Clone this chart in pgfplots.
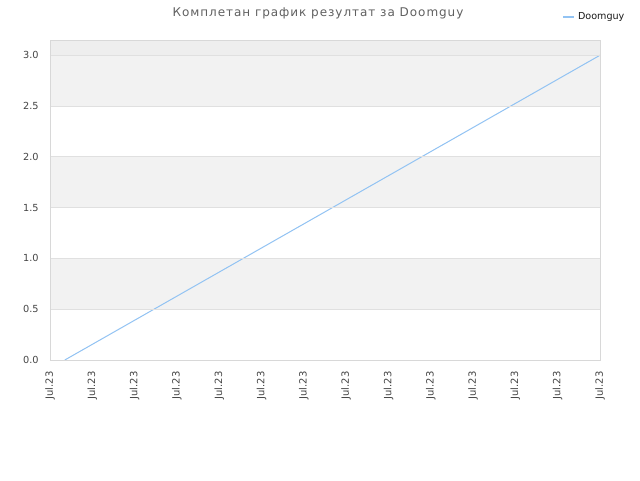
\documentclass[border=0pt]{standalone}
\usepackage{fontspec}
\setmainfont{DejaVu Sans}
\newfontfamily\titlefont[LetterSpace=8]{DejaVu Sans}
\usepackage{pgfplots}
\pgfplotsset{compat=1.18}

\definecolor{linecol}{HTML}{92C3F3}
\definecolor{bandcol}{HTML}{F2F2F2}
\definecolor{topband}{HTML}{EEEEEE}
\definecolor{gridcol}{HTML}{E0E0E0}
\definecolor{framecol}{HTML}{D8D8D8}
\definecolor{txtcol}{HTML}{444444}

\begin{document}
\begin{tikzpicture}
\useasboundingbox (0,0) rectangle (480pt,360pt);
\fill[white] (0,0) rectangle (480pt,360pt);
\node[text=txtcol!85!white, font=\titlefont\fontsize{9}{11}\selectfont] at (238.5pt,350pt) {Комплетан график резултат за Doomguy};
\begin{axis}[
    axis on top,
    at={(37.5pt,90pt)}, anchor=south west,
    scale only axis,
    width=412.5pt, height=240pt,
    xmin=0, xmax=13,
    ymin=0, ymax=3.15,
    xtick={0,1,2,3,4,5,6,7,8,9,10,11,12,13},
    xticklabels={Jul.23,Jul.23,Jul.23,Jul.23,Jul.23,Jul.23,Jul.23,Jul.23,Jul.23,Jul.23,Jul.23,Jul.23,Jul.23,Jul.23},
    xticklabel style={rotate=90, anchor=east, font=\fontsize{7.5}{9}\selectfont, text=txtcol},
    ytick={0,0.5,1,1.5,2,2.5,3},
    yticklabels={0.0,0.5,1.0,1.5,2.0,2.5,3.0},
    yticklabel style={font=\fontsize{7.3}{9}\selectfont, text=txtcol},
    major tick length=0pt,
    tick align=outside,
    ymajorgrids,
    grid style={gridcol, line width=0.6pt},
    axis line style={framecol, line width=0.6pt},
    xticklabel shift=5pt,
    yticklabel shift=5pt,
    legend style={at={(1.057,1.105)}, anchor=north east, draw=none, fill=none,
      font=\fontsize{7.2}{8}\selectfont, text=black!90},
    legend cell align=left,
    legend image code/.code={\draw[linecol, line width=1.5pt] (0pt,0pt) -- (8.5pt,0pt);},
]
\fill[bandcol] (axis cs:0,0.5) rectangle (axis cs:13,1.0);
\fill[bandcol] (axis cs:0,1.5) rectangle (axis cs:13,2.0);
\fill[bandcol] (axis cs:0,2.5) rectangle (axis cs:13,3.0);
\fill[topband] (axis cs:0,3.0) rectangle (axis cs:13,3.15);
\addplot[linecol, line width=0.75pt] coordinates {(0.35,0) (13,3.0)};
\addlegendentry{Doomguy}
\end{axis}
\end{tikzpicture}
\end{document}
